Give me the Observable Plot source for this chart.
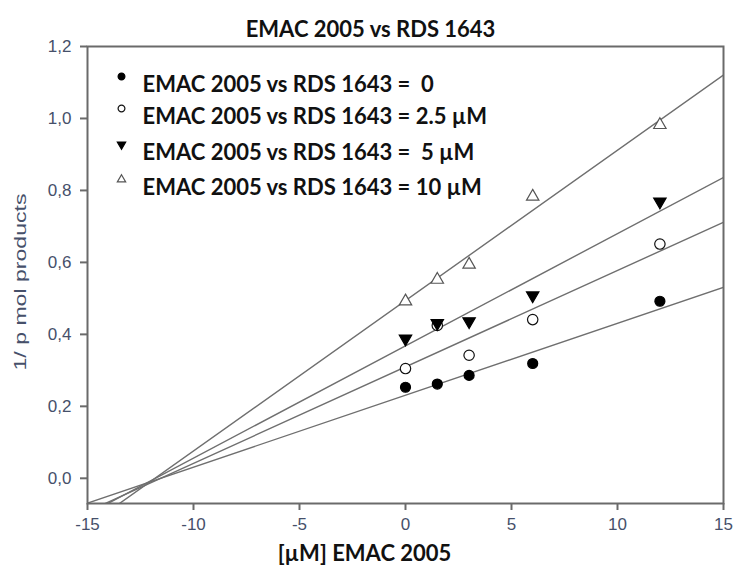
<!DOCTYPE html>
<html>
<head>
<meta charset="utf-8">
<script src="https://cdn.jsdelivr.net/npm/d3@7"></script>
<script src="https://cdn.jsdelivr.net/npm/@observablehq/plot@0.6"></script>
<style>
  html, body { margin: 0; padding: 0; background: #fff; }
  #chart svg { display: block; }
</style>
</head>
<body>
<div id="chart"></div>
<script>
// ---- data ----
const xValues = [0, 1.5, 3, 6, 12];
const legendLabels = [
  "EMAC 2005 vs RDS 1643 =\u00a0\u00a00",
  "EMAC 2005 vs RDS 1643 = 2.5 µM",
  "EMAC 2005 vs RDS 1643 =\u00a0\u00a05 µM",
  "EMAC 2005 vs RDS 1643 = 10 µM"
];
const yConc0   = [0.253, 0.262, 0.286, 0.319, 0.492];
const yConc2_5 = [0.305, 0.425, 0.342, 0.441, 0.651];
const yConc5   = [0.388, 0.431, 0.436, 0.508, 0.769];
const yConc10  = [0.492, 0.552, 0.594, 0.783, 0.982];
// fitted lines (intercept, slope)
const lineIntercepts = [0.231, 0.3096, 0.368, 0.494];
const lineSlopes     = [0.0200, 0.0268, 0.0312, 0.0418];
const xTicks = [-15, -10, -5, 0, 5, 10, 15];
const yTicks = [0.0, 0.2, 0.4, 0.6, 0.8, 1.0, 1.2];
const xDomain = [-15, 15];
const yDomain = [-0.07, 1.2];
const titleText = "EMAC 2005 vs RDS 1643";
const xLabel = "[µM] EMAC 2005";
const yLabel = "1/ p mol products";

// ---- styles ----
const seriesY = [yConc0, yConc2_5, yConc5, yConc10];
const symbols = ["circle", "circle", "triangle", "triangle"];
const fills   = ["#000", "#fff", "#000", "#fff"];
const strokes = ["#000", "#111", "#000", "#555"];
const rotates = [0, 0, 180, 0];
const plotR   = [5, 5.2, 4.6, 4.6];
const legR    = [3.4, 3.4, 3.1, 3.1];

const points = [];
seriesY.forEach((ys, i) => ys.forEach((y, j) => points.push({s: i, x: xValues[j], y})));
const lines = [];
lineIntercepts.forEach((a, i) => {
  for (const x of xDomain) lines.push({s: i, x, y: a + lineSlopes[i] * x});
});

const fmt = d => d3.format(".1f")(d).replace(".", ",");
const tickColor = "#46506a";
const sansFont = "Liberation Sans, Arial, sans-serif";
const boldFont = "Lato, sans-serif";

const marks = [
  Plot.line(lines, {x: "x", y: "y", z: "s", stroke: "#6f6f6f", strokeWidth: 1.4, clip: true}),
];
seriesY.forEach((ys, i) => {
  const d = points.filter(p => p.s === i);
  marks.push(Plot.dot(d, {
    x: "x", y: "y", symbol: () => symbols[i], r: plotR[i],
    fill: fills[i], stroke: strokes[i], strokeWidth: 1.2, rotate: rotates[i]
  }));
});
// legend
const legendDy = [30, 62, 98, 133];
legendLabels.forEach((lab, i) => {
  marks.push(Plot.dot([lab], {
    frameAnchor: "top-left", dx: 34, dy: legendDy[i],
    symbol: () => symbols[i], r: legR[i],
    fill: fills[i], stroke: strokes[i], strokeWidth: 1.2, rotate: rotates[i]
  }));
  marks.push(Plot.text([lab], {
    frameAnchor: "top-left", dx: 55, dy: legendDy[i], text: d => d,
    textAnchor: "start", fontSize: 22, fontWeight: "bold", fill: "#111",
    fontFamily: boldFont
  }));
});
marks.push(
  Plot.frame({stroke: "#6a6a6a", strokeWidth: 2}),
  Plot.axisX({ticks: xTicks, tickSize: 7, tickPadding: 7, fontSize: 17, fontFamily: sansFont,
    stroke: "#6a6a6a", strokeWidth: 2, fill: tickColor, label: null, tickFormat: d => d}),
  Plot.axisY({ticks: yTicks, tickSize: 7, tickPadding: 9, fontSize: 17, fontFamily: sansFont,
    stroke: "#6a6a6a", strokeWidth: 2, fill: tickColor, label: null, tickFormat: fmt}),
  Plot.text([titleText], {frameAnchor: "top", dx: -35, dy: -25, text: d => d,
    fontSize: 22, fontWeight: "bold", fill: "#111", fontFamily: boldFont}),
  Plot.text([xLabel], {frameAnchor: "bottom", dx: -41, dy: 57, text: d => d,
    fontSize: 22, fontWeight: "bold", fill: "#111", fontFamily: boldFont}),
  Plot.text([yLabel], {frameAnchor: "left", textAnchor: "middle", dx: -67, dy: 7, text: d => d,
    rotate: -90, fontSize: 17, fill: tickColor, fontFamily: sansFont})
);

const chart = Plot.plot({
  width: 734, height: 572,
  marginLeft: 87, marginRight: 11, marginTop: 46, marginBottom: 69,
  style: {fontFamily: sansFont, fontSize: "17px", background: "#fff"},
  x: {domain: xDomain, axis: null},
  y: {domain: yDomain, axis: null},
  marks
});
// stretch the vertical label to the length it has in the reference
d3.select(chart).selectAll("text")
  .filter(function () { return this.textContent === yLabel; })
  .attr("textLength", 177).attr("lengthAdjust", "spacingAndGlyphs");
document.getElementById("chart").appendChild(chart);
</script>
</body>
</html>
